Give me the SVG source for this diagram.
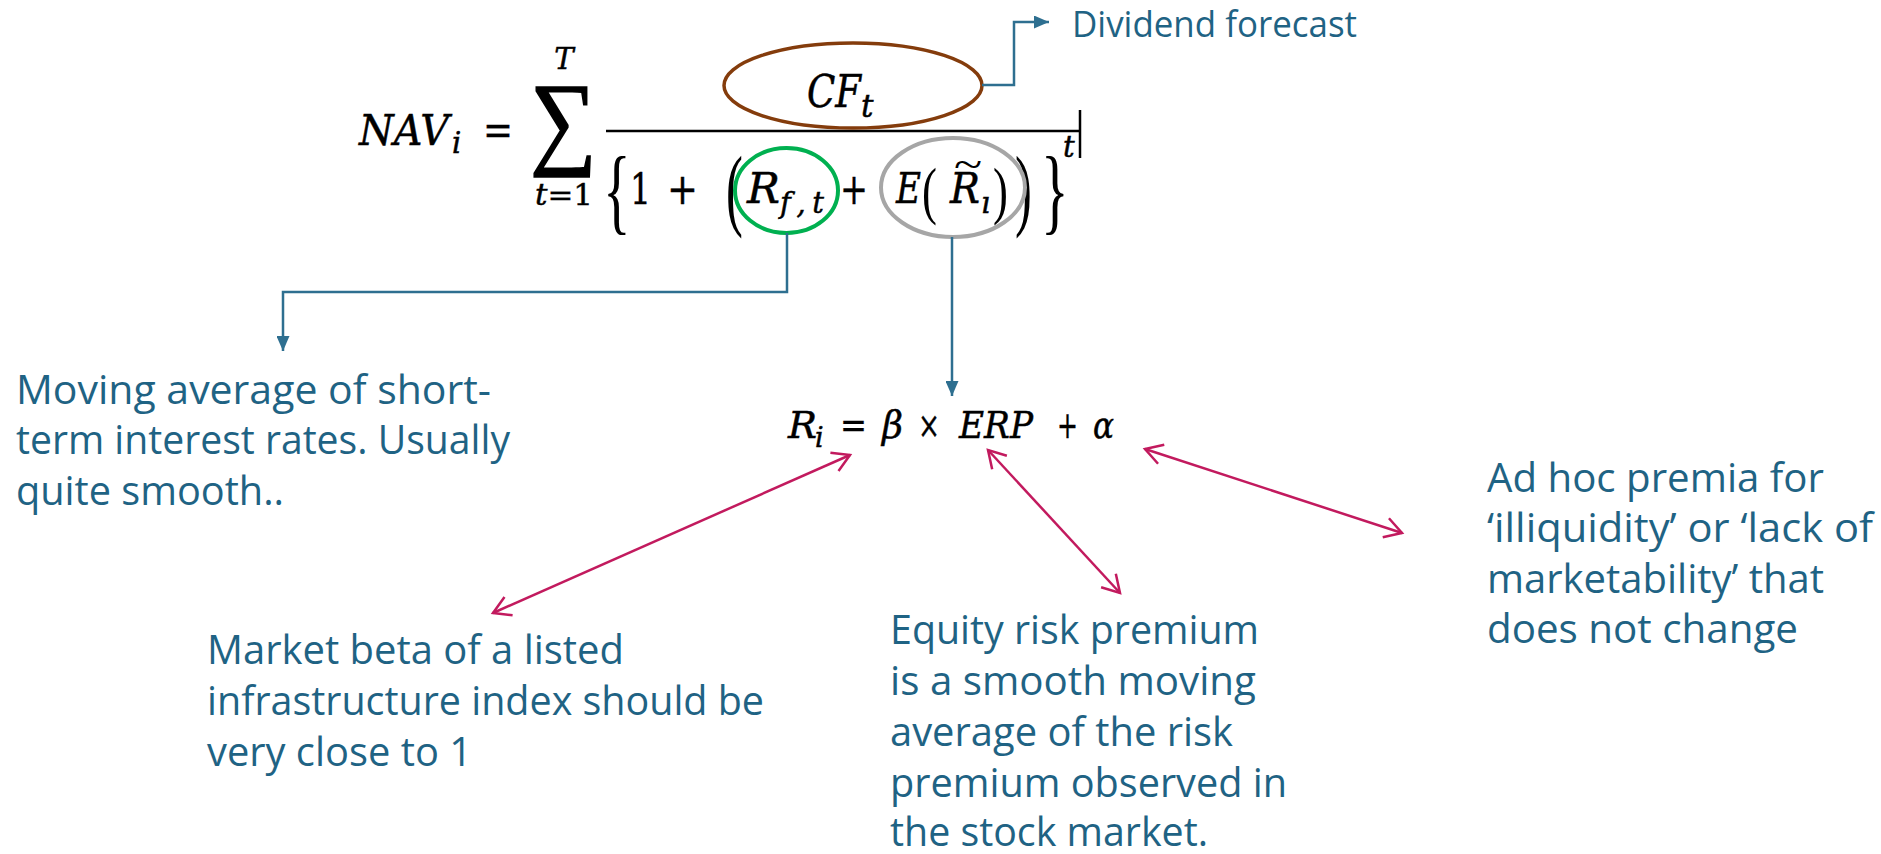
<svg xmlns="http://www.w3.org/2000/svg" width="1881" height="854" viewBox="0 0 1881 854">
<style>
.m{font-family:"DejaVu Serif","Liberation Serif",serif;font-style:italic;fill:#000;stroke:#000;stroke-width:0.5}
.r{font-family:"Liberation Serif","DejaVu Serif",serif;font-style:normal;fill:#000}
.d{font-family:"DejaVu Serif","Liberation Serif",serif;font-style:normal;fill:#000;stroke:#000;stroke-width:0.4}
.lbl{font-family:"Open Sans","Noto Sans",sans-serif;font-size:40px;fill:#1F6384}
.blue{fill:none;stroke:#2E6F90;stroke-width:2.5}
.mag{fill:none;stroke:#C21A5E;stroke-width:2.5}
</style>
<defs>
<marker id="tri" markerUnits="userSpaceOnUse" markerWidth="16" markerHeight="13" refX="15" refY="6.5" orient="auto">
<path d="M0,0 L15,6.5 L0,13 z" fill="#2E6F90"/>
</marker>
<marker id="vee" markerUnits="userSpaceOnUse" markerWidth="22" markerHeight="24" refX="19" refY="12" orient="auto-start-reverse">
<path d="M2,2 L19,12 L2,22" fill="none" stroke="#C21A5E" stroke-width="2.5"/>
</marker>
</defs>
<rect width="1881" height="854" fill="#fff"/>

<g id="formula-nav">
<text class="m" x="359" y="145" font-size="43" textLength="90" lengthAdjust="spacingAndGlyphs">NAV</text>
<text class="m" x="452" y="153" font-size="29">i</text>
<text class="d" x="483" y="145" font-size="42" textLength="30" lengthAdjust="spacingAndGlyphs">=</text>
<text class="r" transform="translate(563,155) scale(0.9,1)" font-size="104" text-anchor="middle" stroke="#000" stroke-width="1.6">∑</text>
<text class="m" x="564" y="69" font-size="29" text-anchor="middle">T</text>
<text class="d" x="535" y="205" font-size="29" textLength="58" lengthAdjust="spacingAndGlyphs"><tspan class="m">t</tspan>=1</text>
<line x1="606" y1="131" x2="1080" y2="131" stroke="#000" stroke-width="2.5"/>
<line x1="1080" y1="110" x2="1080" y2="158" stroke="#000" stroke-width="2.5"/>
<text class="m" x="807" y="107" font-size="45" textLength="54" lengthAdjust="spacingAndGlyphs">CF</text>
<text class="m" x="861" y="117" font-size="31">t</text>
<text class="r" transform="translate(603,222) scale(0.6,1)" font-size="96">{</text>
<text class="d" x="630" y="204" font-size="42" textLength="21" lengthAdjust="spacingAndGlyphs">1</text>
<text class="d" x="667" y="204" font-size="42" textLength="31" lengthAdjust="spacingAndGlyphs">+</text>
<text class="r" transform="translate(726,219) scale(0.55,1)" font-size="92">(</text>
<text class="m" x="747" y="203" font-size="43" textLength="33" lengthAdjust="spacingAndGlyphs">R</text>
<text class="m" x="780" y="213" font-size="29" textLength="44" lengthAdjust="spacing">f,t</text>
<text class="d" x="840" y="204" font-size="42" textLength="28" lengthAdjust="spacingAndGlyphs">+</text>
<text class="m" x="896" y="203" font-size="43" textLength="25" lengthAdjust="spacingAndGlyphs">E</text>
<text class="r" transform="translate(922,212) scale(0.7,1)" font-size="64">(</text>
<text class="m" x="950" y="203" font-size="43" textLength="30" lengthAdjust="spacingAndGlyphs">R</text>
<text class="r" transform="translate(968,178) scale(1.3,1)" font-size="40" text-anchor="middle">~</text>
<text class="m" x="981" y="213" font-size="29">ı</text>
<text class="r" transform="translate(993,212) scale(0.7,1)" font-size="64">)</text>
<text class="r" transform="translate(1015,219) scale(0.55,1)" font-size="92">)</text>
<text class="r" transform="translate(1041,222) scale(0.6,1)" font-size="96">}</text>
<text class="m" x="1063" y="157" font-size="29">t</text>
</g>

<g id="ellipse-cf"><ellipse cx="853" cy="85.5" rx="129" ry="42.5" fill="none" stroke="#843C0C" stroke-width="3.5"/></g>
<g id="ellipse-rf"><ellipse cx="786.5" cy="190.5" rx="51.5" ry="42.5" fill="none" stroke="#00B050" stroke-width="4"/></g>
<g id="ellipse-er"><ellipse cx="953" cy="187.5" rx="72" ry="49.5" fill="none" stroke="#A6A6A6" stroke-width="4"/></g>

<g id="formula-ri">
<text class="m" x="788" y="438" font-size="38" textLength="29" lengthAdjust="spacingAndGlyphs">R</text>
<text class="m" x="815" y="447" font-size="27">i</text>
<text class="d" x="840" y="438" font-size="37" textLength="27" lengthAdjust="spacingAndGlyphs">=</text>
<text class="m" x="882" y="438" font-size="38" textLength="21" lengthAdjust="spacingAndGlyphs">β</text>
<text class="d" x="918" y="438" font-size="37" textLength="22" lengthAdjust="spacingAndGlyphs">×</text>
<text class="m" x="959" y="438" font-size="38" textLength="74" lengthAdjust="spacingAndGlyphs">ERP</text>
<text class="d" x="1057" y="438" font-size="37" textLength="21" lengthAdjust="spacingAndGlyphs">+</text>
<text class="m" x="1093" y="438" font-size="38" textLength="21" lengthAdjust="spacingAndGlyphs">α</text>
</g>

<g id="label-dividend">
<text class="lbl" x="1072" y="37" style="font-size:36px" textLength="285" lengthAdjust="spacingAndGlyphs">Dividend forecast</text>
</g>
<g id="label-moving">
<text class="lbl" x="16" y="404" textLength="475" lengthAdjust="spacingAndGlyphs">Moving average of short-</text>
<text class="lbl" x="16" y="454" textLength="494" lengthAdjust="spacingAndGlyphs">term interest rates. Usually</text>
<text class="lbl" x="16" y="505" textLength="268" lengthAdjust="spacingAndGlyphs">quite smooth..</text>
</g>
<g id="label-beta">
<text class="lbl" x="207" y="664" textLength="417" lengthAdjust="spacingAndGlyphs">Market beta of a listed</text>
<text class="lbl" x="207" y="715" textLength="557" lengthAdjust="spacingAndGlyphs">infrastructure index should be</text>
<text class="lbl" x="207" y="766" textLength="265" lengthAdjust="spacingAndGlyphs">very close to 1</text>
</g>
<g id="label-erp">
<text class="lbl" x="890" y="644" textLength="369" lengthAdjust="spacingAndGlyphs">Equity risk premium</text>
<text class="lbl" x="890" y="695" textLength="366" lengthAdjust="spacingAndGlyphs">is a smooth moving</text>
<text class="lbl" x="890" y="746" textLength="343" lengthAdjust="spacingAndGlyphs">average of the risk</text>
<text class="lbl" x="890" y="797" textLength="397" lengthAdjust="spacingAndGlyphs">premium observed in</text>
<text class="lbl" x="890" y="846" textLength="318" lengthAdjust="spacingAndGlyphs">the stock market.</text>
</g>
<g id="label-alpha">
<text class="lbl" x="1487" y="492" textLength="337" lengthAdjust="spacingAndGlyphs">Ad hoc premia for</text>
<text class="lbl" x="1487" y="542" textLength="386" lengthAdjust="spacingAndGlyphs">‘illiquidity’ or ‘lack of</text>
<text class="lbl" x="1487" y="593" textLength="337" lengthAdjust="spacingAndGlyphs">marketability’ that</text>
<text class="lbl" x="1487" y="643" textLength="311" lengthAdjust="spacingAndGlyphs">does not change</text>
</g>

<g id="connectors">
<polyline class="blue" points="982,85 1014,85 1014,22 1049,22" marker-end="url(#tri)"/>
<polyline class="blue" points="787,233 787,292 283,292 283,351" marker-end="url(#tri)"/>
<polyline class="blue" points="952,237 952,396" marker-end="url(#tri)"/>
<line class="mag" x1="493" y1="613" x2="850" y2="455" marker-start="url(#vee)" marker-end="url(#vee)"/>
<line class="mag" x1="988" y1="450" x2="1120" y2="593" marker-start="url(#vee)" marker-end="url(#vee)"/>
<line class="mag" x1="1145" y1="449" x2="1402" y2="533" marker-start="url(#vee)" marker-end="url(#vee)"/>
</g>
</svg>
